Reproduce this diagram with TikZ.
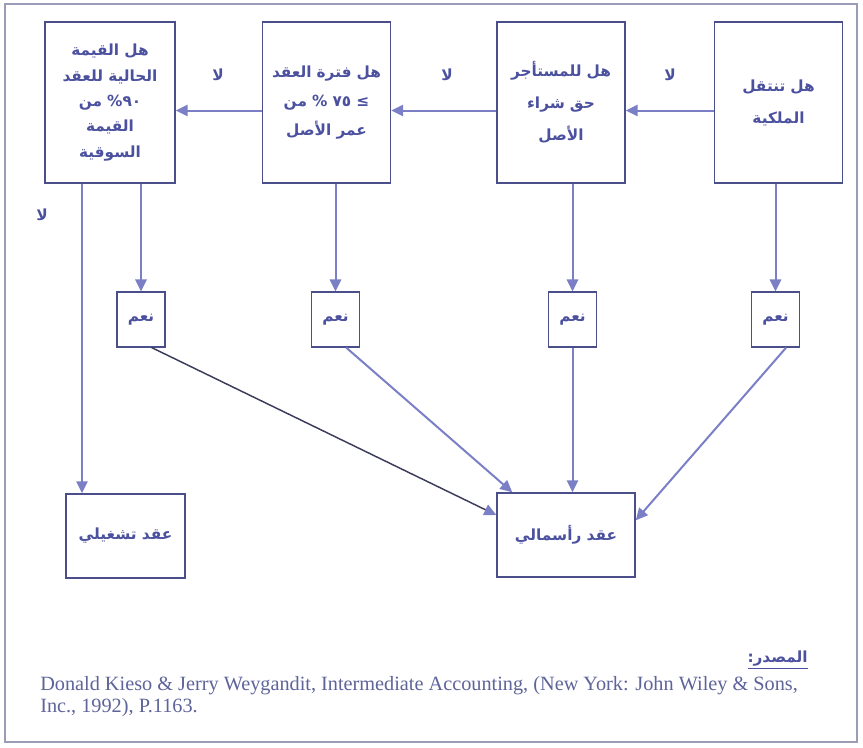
\documentclass[tikz,border=0pt]{standalone}
\usepackage{fontspec}
\setmainfont{Liberation Serif}
\newfontfamily\arabicfont[Script=Arabic]{DejaVu Sans}
\TeXXeTstate=1
\usetikzlibrary{arrows.meta,positioning}
\definecolor{boxline}{HTML}{4A4F8C}
\definecolor{arrowblue}{HTML}{7A7FC6}
\definecolor{textblue}{HTML}{4B519E}
\definecolor{darkline}{HTML}{3A3C5A}
\definecolor{citegray}{HTML}{5E639A}
\definecolor{framegray}{HTML}{9A9CB8}
\newcommand{\artxt}[1]{\beginR #1\endR}

\begin{document}
\begin{tikzpicture}[
  x=0.75pt, y=-0.75pt,
  artext/.style={font=\arabicfont\bfseries\fontsize{11.5}{24}\selectfont, text=textblue},
  question/.style={artext, draw=boxline, line width=1.1pt, minimum width=96pt, minimum height=120.75pt, text width=90pt, align=center, inner sep=2pt},
  yesbox/.style={artext, draw=boxline, line width=1.1pt, minimum width=36pt, minimum height=41pt, inner sep=1pt},
  result/.style={artext, draw=boxline, line width=1.1pt, minimum width=89pt, minimum height=63pt, inner sep=2pt},
  nolabel/.style={artext, inner sep=1pt},
  flow/.style={-{Triangle[length=9pt,width=8.5pt]}, draw=arrowblue, line width=1.5pt},
  cite/.style={font=\fontsize{15.2}{16.8}\selectfont, text=citegray, align=left, inner sep=0pt}
]
\useasboundingbox (0,0) rectangle (863,747);
\draw[framegray, line width=1.5pt] (5,4) rectangle (857,742);

% questions
\node[question] (q1) at (778.5,102.5) {\artxt{هل تنتقل}\\\artxt{الملكية}\\[14pt]};
\node[question] (q2) at (561,102.5) {\artxt{هل للمستأجر}\\\artxt{حق شراء}\\\artxt{الأصل}};
\node[question] (q3) at (326.5,102.5) {\artxt{هل فترة العقد}\\[-2pt]\artxt{≥ \beginL٧٥\endL{} \% من}\\[-2pt]\artxt{عمر الأصل}};
\node[question, minimum width=97.5pt, font=\arabicfont\bfseries\fontsize{11.5}{19}\selectfont] (q4) at (110,102.5) {\artxt{هل القيمة}\\\artxt{الحالية للعقد}\\\artxt{\beginL٩٠\endL\% من}\\\artxt{القيمة}\\\artxt{السوقية}\\[-2pt]};

\node[nolabel] (n1) at (670,75) {\artxt{لا}};
\node[nolabel] (n2) at (447,75) {\artxt{لا}};
\node[nolabel] (n3) at (218,75) {\artxt{لا}};
\node[nolabel] (n4) at (42,215) {\artxt{لا}};

% yes boxes
\node[yesbox] (y1) at (775.5,319.5) {\artxt{نعم}};
\node[yesbox] (y2) at (572.5,319.5) {\artxt{نعم}};
\node[yesbox] (y3) at (335.5,319.5) {\artxt{نعم}};
\node[yesbox] (y4) at (141,319.5) {\artxt{نعم}};

% outcomes
\node[result] (op) at (125.5,536) {\artxt{عقد تشغيلي}};
\node[result, minimum width=103.5pt] (cap) at (566,535) {\artxt{عقد رأسمالي}};

\draw[flow] ([yshift=-6pt]q1.west) -- ([yshift=-6pt]q2.east);
\draw[flow] ([yshift=-6pt]q2.west) -- ([yshift=-6pt]q3.east);
\draw[flow] ([yshift=-6pt]q3.west) -- ([yshift=-6pt]q4.east);

\draw[flow] (q1.south -| y1.north) -- (y1.north);
\draw[flow] (q2.south -| y2.north) -- (y2.north);
\draw[flow] (q3.south -| y3.north) -- (y3.north);
\draw[flow] (q4.south -| y4.north) -- (y4.north);

\coordinate (q4drop) at ([xshift=-21pt]q4.south);
\draw[flow] (q4drop) -- (q4drop |- op.north);

\draw[flow, draw=darkline, line width=1.1pt, -{Triangle[length=9pt,width=8.5pt,color=arrowblue]}] ([xshift=8pt]y4.south) -- ([yshift=15pt]cap.west);
\draw[flow] ([xshift=8pt]y3.south) -- ([xshift=12pt]cap.north west);
\draw[flow] (y2.south) -- (y2.south |- cap.north);
\draw[flow] ([xshift=8pt]y1.south) -- ([yshift=11pt]cap.east);

% source
\node[artext, anchor=east, inner sep=0pt] (src) at (808,660) {\underline{\artxt{المصدر\kern0pt:}}};
\node[cite, anchor=north west] (ref) at (40,676) {Donald Kieso \& Jerry Weygandit, Intermediate Accounting, (New York: John Wiley \& Sons,\\Inc., 1992), P.1163.};
\end{tikzpicture}
\end{document}
